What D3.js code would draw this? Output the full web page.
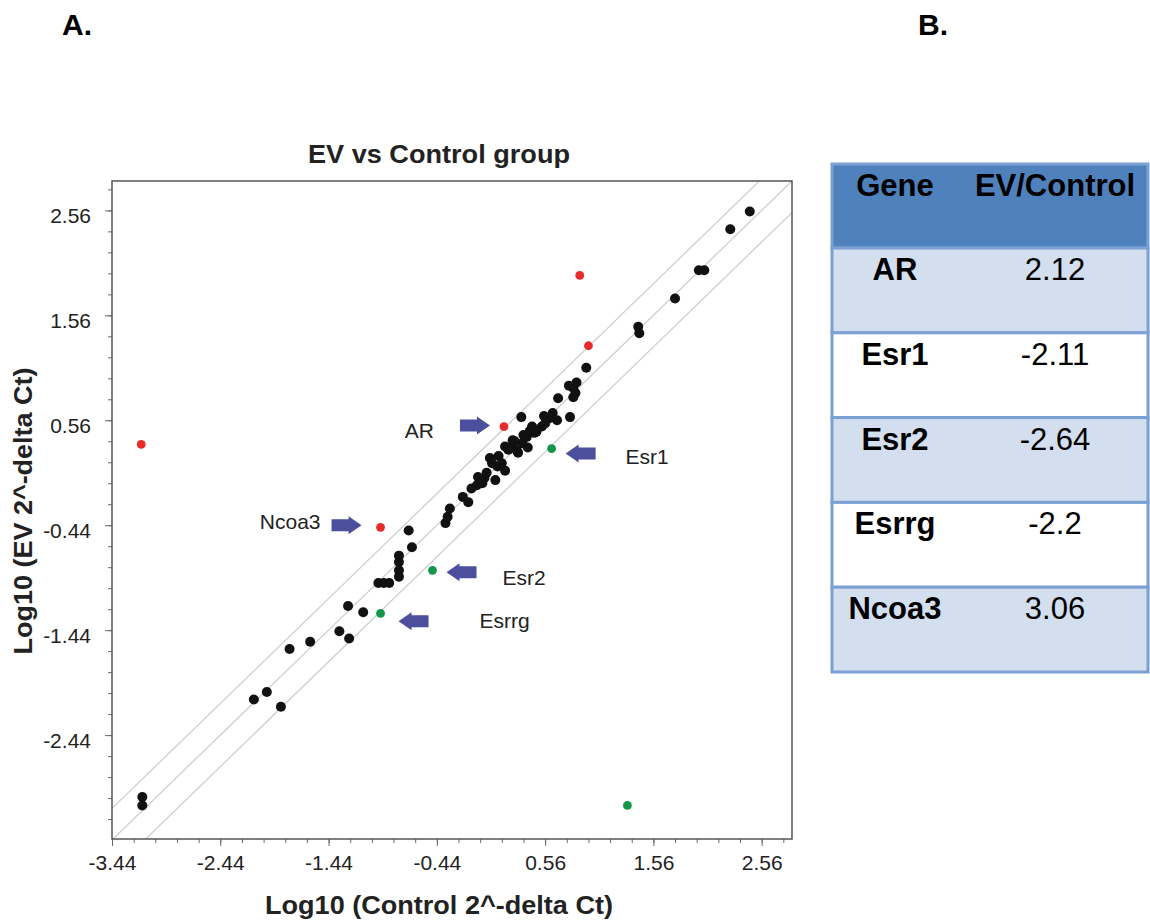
<!DOCTYPE html>
<html>
<head>
<meta charset="utf-8">
<script src="https://cdn.jsdelivr.net/npm/d3@7/dist/d3.min.js"></script>
<style>
    body { margin: 0; background: #fff; }
    text { font-family: "Liberation Sans", Arial, Helvetica, sans-serif; }
</style>
</head>
<body>
<div id="chart"></div>
<script>
// genes with no change (black)
var baseControl = [-3.16, -3.16, -2.13, -2.01, -1.88, -1.80, -1.61, -1.34, -1.25, -1.26, -1.12,
    -0.98, -0.93, -0.88, -0.79, -0.79, -0.79, -0.79, -0.70, -0.67, -0.36, -0.34, -0.32,
    -0.20, -0.15, -0.12, -0.07, -0.06, -0.02, 0.00, 0.02, 0.10, 0.07, 0.16, 0.19, 0.12,
    0.19, 0.26, 0.31, 0.35, 0.26, 0.30, 0.39, 0.42, 0.40, 0.34, 0.53, 0.56, 0.60, 0.63,
    0.67, 0.79, 0.68, 0.82, 0.84, 0.82, 0.85, 0.78, 0.94, 1.42, 1.43, 1.76, 1.98, 2.03,
    2.27, 2.45, 0.46, 0.05, 0.13, 0.22, 0.28, 0.36, 0.44, 0.48, 0.55];
var baseEV = [-3.03, -3.11, -2.10, -2.03, -2.17, -1.62, -1.55, -1.45, -1.52, -1.21, -1.27,
    -0.99, -0.99, -0.99, -0.73, -0.79, -0.87, -0.93, -0.49, -0.65, -0.42, -0.36, -0.28,
    -0.17, -0.22, -0.09, -0.06, 0.02, -0.04, 0.01, 0.06, -0.01, 0.15, 0.15, 0.08, 0.12,
    0.31, 0.32, 0.25, 0.34, 0.37, 0.27, 0.40, 0.46, 0.30, 0.59, 0.50, 0.53, 0.58, 0.63,
    0.56, 0.59, 0.77, 0.78, 0.82, 0.87, 0.92, 0.89, 1.06, 1.45, 1.39, 1.72, 1.99, 1.99,
    2.38, 2.55, 0.44, 0.20, 0.22, 0.28, 0.36, 0.42, 0.50, 0.45, 0.60];

// up-regulated (red)
var upControl = [-3.17, 0.88, 0.96, 0.18, -0.96];
var upEV = [0.33, 1.94, 1.27, 0.50, -0.46];
var upName = ["", "", "", "AR", "Ncoa3"];

// down-regulated (green)
var downControl = [0.62, -0.48, -0.96, 1.32];
var downEV = [0.29, -0.87, -1.28, -3.11];
var downName = ["Esr1", "Esr2", "Esrrg", ""];

var tickVals = [-3.44, -2.44, -1.44, -0.44, 0.56, 1.56, 2.56];
var foldLines = [0, Math.log10(2), -Math.log10(2)];

var tableGenes = ["AR", "Esr1", "Esr2", "Esrrg", "Ncoa3"];
var tableFold = [2.12, -2.11, -2.64, -2.2, 3.06];

// arrow + label placement around the flagged genes (pixels from the dot)
var callouts = {
    "AR":    {dir: 1,  dx: -14, dy: -1, lx: -70, ly: 11},
    "Ncoa3": {dir: 1,  dx: -19, dy: -2, lx: -60, ly: 2},
    "Esr1":  {dir: -1, dx: 14,  dy: 5,  lx: 74,  ly: 15},
    "Esr2":  {dir: -1, dx: 14,  dy: 2,  lx: 70,  ly: 15},
    "Esrrg": {dir: -1, dx: 18,  dy: 8,  lx: 99,  ly: 15}
};

var margin = {top: 181, left: 112};
var width = 680, height = 658;

var svg = d3.select("#chart")
    .append("svg")
    .attr("width", 1150)
    .attr("height", 920);

svg.append("text").attr("x", 62).attr("y", 35)
    .style("font-size", "30px").style("font-weight", "bold").text("A.");
svg.append("text").attr("x", 918).attr("y", 35)
    .style("font-size", "30px").style("font-weight", "bold").text("B.");

var g = svg.append("g")
    .attr("transform", "translate(" + margin.left + "," + margin.top + ")");

var xScale = d3.scaleLinear().domain([-3.44, 2.84]).range([0, width]);
var yScale = d3.scaleLinear().domain([-3.43, 2.84]).range([height, 0]);

function minorTicks(scale) {
    var dom = scale.domain();
    return d3.range(0, 40).map(function (i) {
        return -3.44 + i * 0.2;
    }).filter(function (v) {
        return v >= dom[0] - 1e-6 && v <= dom[1];
    });
}

function tickText(d) {
    return d.toFixed(2);   // plain hyphen minus, like the original
}

g.append("defs").append("clipPath").attr("id", "plotclip")
    .append("rect").attr("width", width).attr("height", height);

// fold-change reference lines
g.append("g").attr("clip-path", "url(#plotclip)")
    .selectAll("line")
    .data(foldLines)
    .enter().append("line")
    .attr("x1", xScale(-4)).attr("x2", xScale(4))
    .attr("y1", function (d) { return yScale(-4 + d); })
    .attr("y2", function (d) { return yScale(4 + d); })
    .style("stroke", "#cfcfcf")
    .style("stroke-width", 1.3);

// minor ticks
g.append("g")
    .attr("class", "x minor")
    .attr("transform", "translate(0," + height + ")")
    .call(d3.axisBottom(xScale).tickValues(minorTicks(xScale)).tickSize(4).tickFormat(""));
g.append("g")
    .attr("class", "y minor")
    .call(d3.axisLeft(yScale).tickValues(minorTicks(yScale)).tickSize(4).tickFormat(""));

// major ticks
g.append("g")
    .attr("class", "x axis")
    .attr("transform", "translate(0," + height + ")")
    .call(d3.axisBottom(xScale).tickValues(tickVals).tickSize(7).tickPadding(9)
        .tickFormat(tickText));
g.append("g")
    .attr("class", "y axis")
    .call(d3.axisLeft(yScale).tickValues(tickVals.slice(1)).tickSize(7).tickPadding(14)
        .tickFormat(tickText));

g.selectAll(".domain").remove();
g.selectAll(".tick line").style("stroke", "#6a6a6a");
g.selectAll(".axis .tick text")
    .style("font-size", "21px")
    .style("fill", "#222");
g.selectAll(".y.axis .tick text").attr("dy", "0.6em");

g.append("rect")
    .attr("width", width).attr("height", height)
    .style("fill", "none")
    .style("stroke", "#555")
    .style("stroke-width", 1.5);

function toPoints(xs, ys, names, kind) {
    return xs.map(function (v, i) {
        return {control: v, ev: ys[i], name: names ? names[i] : "", kind: kind};
    });
}

var basePts = toPoints(baseControl, baseEV, null, "none");
var upPts = toPoints(upControl, upEV, upName, "up");
var downPts = toPoints(downControl, downEV, downName, "down");

g.selectAll(".dot-base")
    .data(basePts)
    .enter().append("circle")
    .attr("class", "dot-base")
    .attr("cx", function (d) { return xScale(d.control); })
    .attr("cy", function (d) { return yScale(d.ev); })
    .attr("r", 5)
    .style("fill", "#111");

g.selectAll(".dot-flag")
    .data(upPts.concat(downPts))
    .enter().append("circle")
    .attr("class", "dot-flag")
    .attr("cx", function (d) { return xScale(d.control); })
    .attr("cy", function (d) { return yScale(d.ev); })
    .attr("r", 4.4)
    .style("fill", function (d) { return d.kind == "up" ? "#e82a2a" : "#12974a"; });

// block arrow, tip at 0,0 pointing right
var arrowPath = "M-30,-6L-13,-6L-13,-9L0,0L-13,9L-13,6L-30,6Z";

var labelled = upPts.concat(downPts).filter(function (d) { return callouts[d.name]; });

labelled.forEach(function (d) {
    var c = callouts[d.name];
    var px = xScale(d.control), py = yScale(d.ev);
    g.append("path")
        .attr("d", arrowPath)
        .attr("transform", "translate(" + (px + c.dx) + "," + (py + c.dy) + ") scale(" + c.dir + ",1)")
        .style("fill", "#4b4f9c");
    g.append("text")
        .attr("x", px + c.lx)
        .attr("y", py + c.ly)
        .attr("text-anchor", c.dir == 1 ? "end" : "start")
        .style("font-size", "21px")
        .style("fill", "#222")
        .text(d.name);
});

// titles
svg.append("text")
    .attr("x", margin.left + 327).attr("y", 163)
    .attr("text-anchor", "middle")
    .attr("textLength", 262).attr("lengthAdjust", "spacingAndGlyphs")
    .style("font-size", "26px").style("font-weight", "bold").style("fill", "#222")
    .text("EV vs Control group");

svg.append("text")
    .attr("x", 439).attr("y", 914)
    .attr("text-anchor", "middle")
    .attr("textLength", 348).attr("lengthAdjust", "spacingAndGlyphs")
    .style("font-size", "26px").style("font-weight", "bold").style("fill", "#222")
    .text("Log10 (Control 2^-delta Ct)");

svg.append("text")
    .attr("transform", "translate(32,511) rotate(-90)")
    .attr("text-anchor", "middle")
    .attr("textLength", 287).attr("lengthAdjust", "spacingAndGlyphs")
    .style("font-size", "26px").style("font-weight", "bold").style("fill", "#222")
    .text("Log10 (EV 2^-delta Ct)");

// table B
var tbl = {x: 832, w: 316, top: 164, headH: 84, rowH: 84.8, col1: 895, col2: 1055};

var tg = svg.append("g").attr("class", "table");

tg.append("rect")
    .attr("x", tbl.x).attr("y", tbl.top)
    .attr("width", tbl.w).attr("height", tbl.headH)
    .style("fill", "#4f81bd")
    .style("stroke", "#7ba0d3").style("stroke-width", 3);

tg.selectAll(".row")
    .data(tableGenes)
    .enter().append("rect")
    .attr("class", "row")
    .attr("x", tbl.x)
    .attr("y", function (d, i) { return tbl.top + tbl.headH + i * tbl.rowH; })
    .attr("width", tbl.w).attr("height", tbl.rowH)
    .style("fill", function (d, i) { return i % 2 == 0 ? "#d3dfee" : "#ffffff"; })
    .style("stroke", "#7ba0d3").style("stroke-width", 3);

tg.append("text")
    .attr("x", tbl.col1).attr("y", tbl.top + 32)
    .attr("text-anchor", "middle")
    .style("font-size", "31px").style("font-weight", "bold")
    .text("Gene");
tg.append("text")
    .attr("x", tbl.col2).attr("y", tbl.top + 32)
    .attr("text-anchor", "middle")
    .style("font-size", "31px").style("font-weight", "bold")
    .text("EV/Control");

tg.selectAll(".gname")
    .data(tableGenes)
    .enter().append("text")
    .attr("class", "gname")
    .attr("x", tbl.col1)
    .attr("y", function (d, i) { return tbl.top + tbl.headH + i * tbl.rowH + 32; })
    .attr("text-anchor", "middle")
    .style("font-size", "31px").style("font-weight", "bold")
    .text(function (d) { return d; });

tg.selectAll(".gval")
    .data(tableFold)
    .enter().append("text")
    .attr("class", "gval")
    .attr("x", tbl.col2)
    .attr("y", function (d, i) { return tbl.top + tbl.headH + i * tbl.rowH + 32; })
    .attr("text-anchor", "middle")
    .style("font-size", "31px")
    .text(function (d) { return String(d); });
</script>
</body>
</html>
